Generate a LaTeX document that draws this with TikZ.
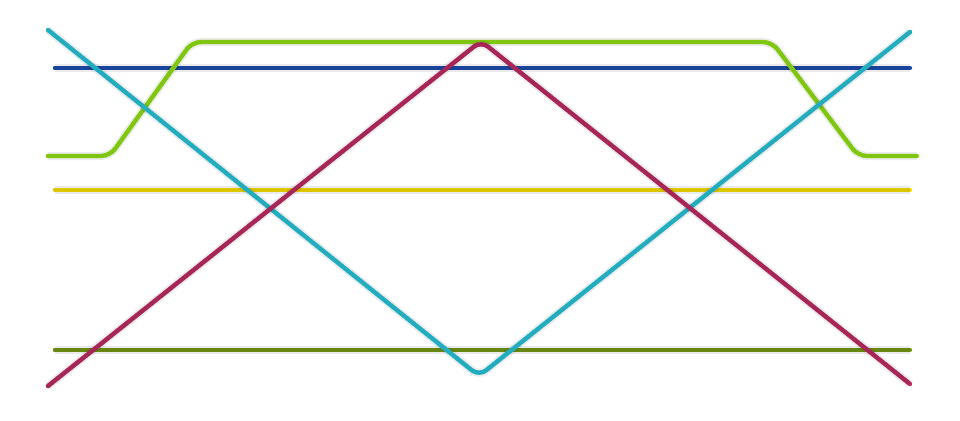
\documentclass[tikz,border=0pt]{standalone}
\usepackage{tikz}
\usetikzlibrary{calc}

\definecolor{railblue}{HTML}{1E50B4}
\definecolor{railyellow}{HTML}{FFE600}
\definecolor{railolive}{HTML}{789C14}
\definecolor{raillime}{HTML}{96E614}
\definecolor{railcyan}{HTML}{28C8DC}
\definecolor{railcrimson}{HTML}{C02C66}

\begin{document}
\begin{tikzpicture}[x=1pt, y=-1pt,
    rail/.style={draw=#1, line width=4.4pt, line cap=round, line join=round,
        rounded corners=9pt,
        preaction={draw=black, opacity=0.08, line width=8pt},
        postaction={draw=#1!65!black, opacity=0.4, line width=4.4pt,
            dash pattern=on 1.5pt off 2.5pt}}]
        % --- 1. Parameters ---
        \def\xL{55}
        \def\xR{910}
        \useasboundingbox (0,0) rectangle (960,420);

        % --- 2. Straight rails ---
        \draw[rail=railblue] (\xL,68) -- (\xR,68);
        \draw[rail=railyellow] (\xL,190) -- (\xR,190);
        \draw[rail=railolive] (\xL,350) -- (\xR,350);

        % --- 3. Lime rail (raised in the middle) ---
        \coordinate (LimeA) at (48,156);
        \coordinate (LimeB) at (110,156);
        \coordinate (LimeC) at (192,42);
        \coordinate (LimeD) at (772,42);
        \coordinate (LimeE) at (858,156);
        \coordinate (LimeF) at (917,156);
        \draw[rail=raillime] (LimeA) -- (LimeB) -- (LimeC) -- (LimeD) -- (LimeE) -- (LimeF);

        % --- 4. Crossing rails ---
        \coordinate (CyanA) at (48,30);
        \coordinate (CyanB) at (479,376);
        \coordinate (CyanC) at (910,32);
        \draw[rail=railcyan] (CyanA) -- (CyanB) -- (CyanC);

        \coordinate (RedA) at (48,386);
        \coordinate (RedB) at (481,41);
        \coordinate (RedC) at (910,384);
        \draw[rail=railcrimson] (RedA) -- (RedB) -- (RedC);
    \end{tikzpicture}
\end{document}
